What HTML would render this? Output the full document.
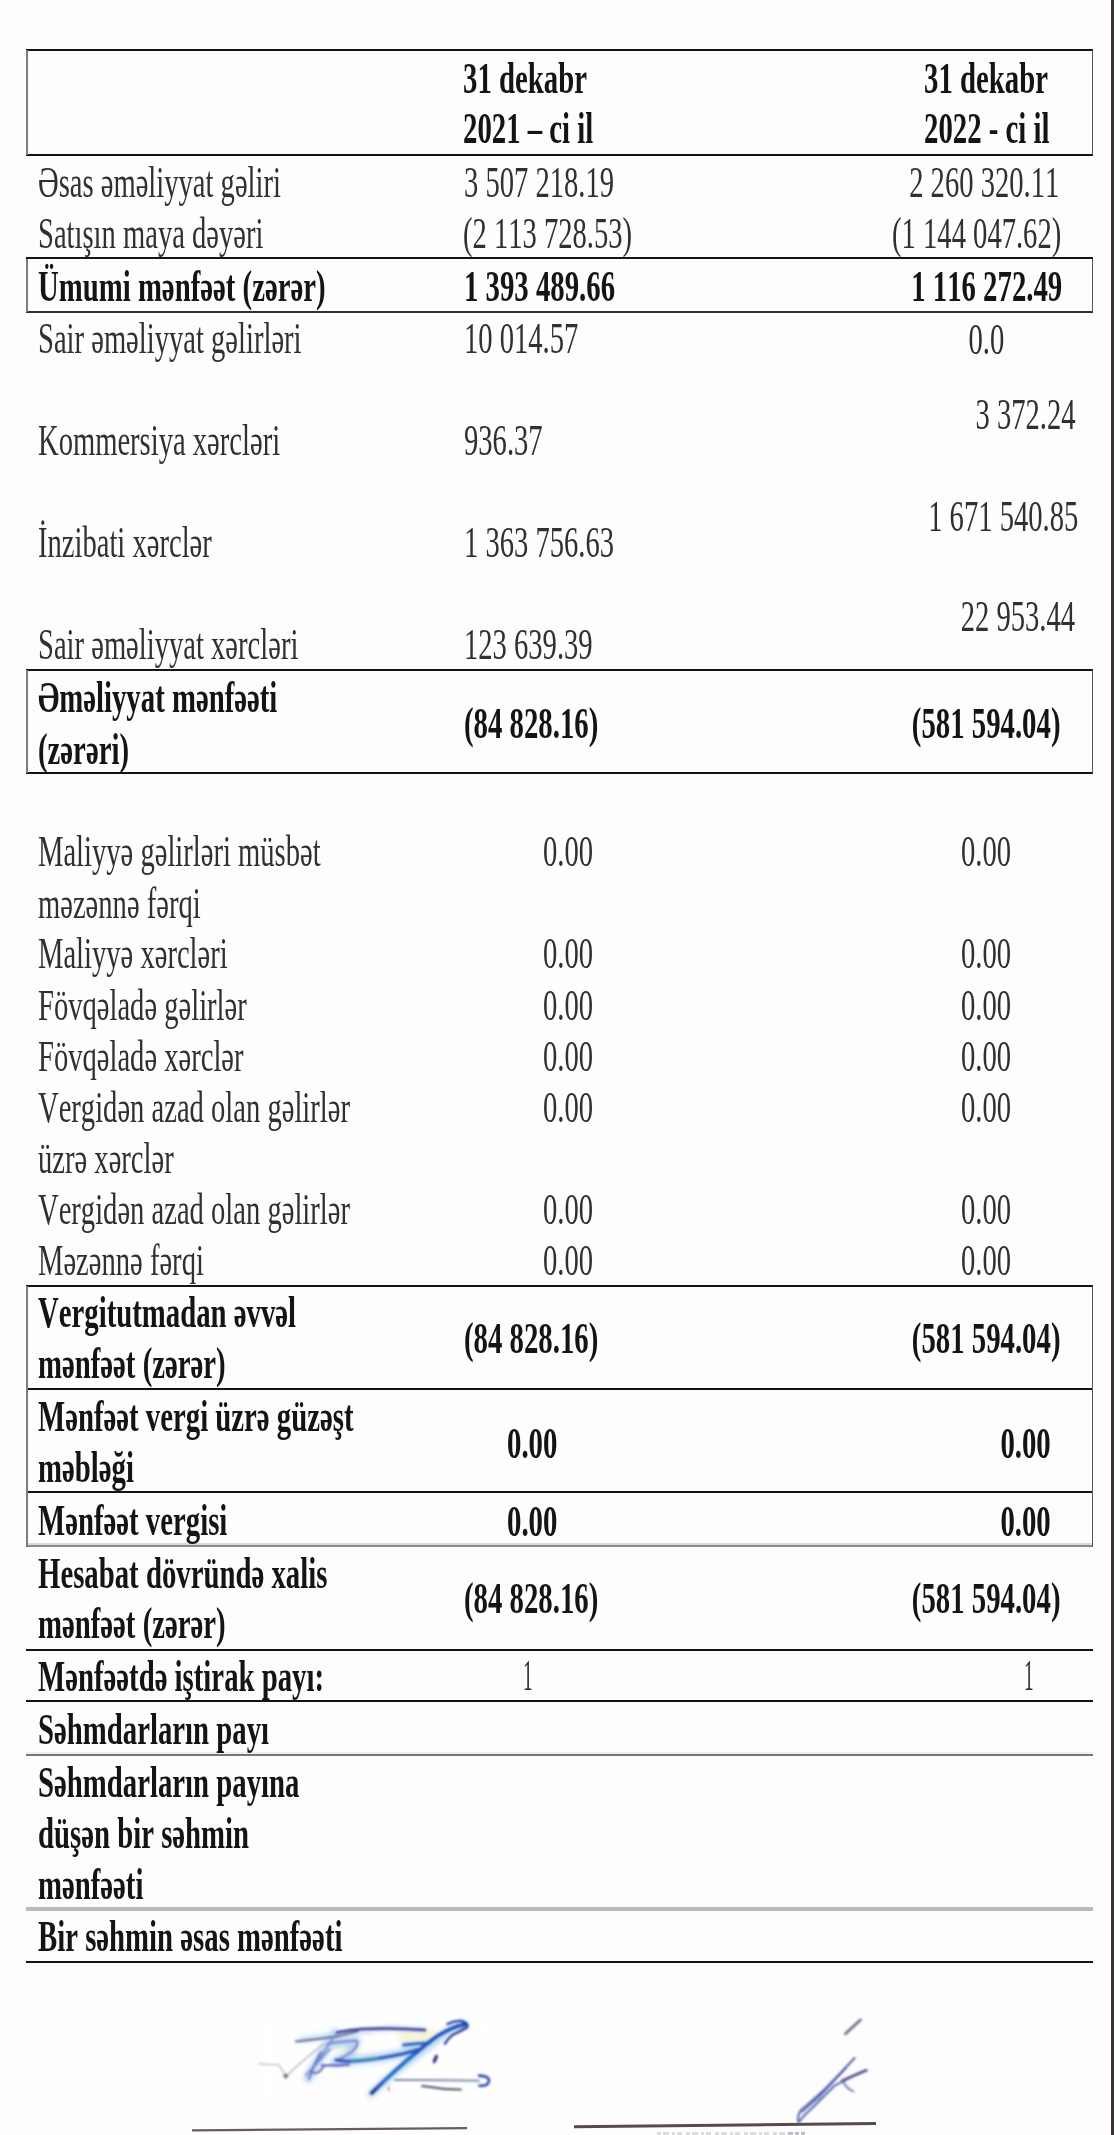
<!DOCTYPE html>
<html lang="az"><head><meta charset="utf-8"><title>Report</title>
<style>
html,body{margin:0;padding:0;background:#fdfdfd;}
body{width:1114px;height:2135px;position:relative;overflow:hidden;font-family:"Liberation Serif",serif;color:#303030;}
.t{position:absolute;white-space:pre;font-size:45.0px;line-height:1;font-kerning:none;font-variant-ligatures:none;filter:blur(0.4px);transform:scaleX(0.6353);}
.l{transform-origin:0 0;}
.r{transform-origin:100% 0;}
.b{font-weight:bold;color:#141414;transform:scaleX(0.6394);}
.k{position:absolute;}
</style></head><body>
<div class="k" style="left:26.0px;top:48.8px;width:1067.0px;height:2.1px;background:#141414"></div>
<div class="k" style="left:26.0px;top:153.8px;width:1067.0px;height:2.1px;background:#141414"></div>
<div class="k" style="left:26.0px;top:257.4px;width:1067.0px;height:2.1px;background:#141414"></div>
<div class="k" style="left:26.0px;top:669.2px;width:1067.0px;height:2.1px;background:#141414"></div>
<div class="k" style="left:26.0px;top:772.2px;width:1067.0px;height:2.1px;background:#141414"></div>
<div class="k" style="left:26.0px;top:1285.2px;width:1067.0px;height:2.1px;background:#141414"></div>
<div class="k" style="left:26.0px;top:1387.5px;width:1067.0px;height:2.1px;background:#141414"></div>
<div class="k" style="left:26.0px;top:1491.4px;width:1067.0px;height:2.1px;background:#141414"></div>
<div class="k" style="left:26.0px;top:1648.5px;width:1067.0px;height:2.1px;background:#141414"></div>
<div class="k" style="left:26.0px;top:1700.0px;width:1067.0px;height:2.1px;background:#141414"></div>
<div class="k" style="left:26.0px;top:1960.5px;width:1067.0px;height:2.1px;background:#141414"></div>
<div class="k" style="left:26.0px;top:310.8px;width:1067.0px;height:2.0px;background:#333"></div>
<div class="k" style="left:26.0px;top:1543.0px;width:1067.0px;height:2.0px;background:#dadada"></div>
<div class="k" style="left:26.0px;top:1544.9px;width:1067.0px;height:2.2px;background:#8a8a8a"></div>
<div class="k" style="left:26.0px;top:1752.4px;width:1067.0px;height:1.6px;background:#efefef"></div>
<div class="k" style="left:26.0px;top:1753.9px;width:1067.0px;height:2.1px;background:#777"></div>
<div class="k" style="left:26.0px;top:1906.9px;width:1067.0px;height:4.0px;background:#bbbbbb"></div>
<div class="k" style="left:26.0px;top:49.8px;width:1.7px;height:105.1px;background:#7d7d7d"></div>
<div class="k" style="left:1091.5px;top:49.8px;width:1.5px;height:105.1px;background:#5a5a5a"></div>
<div class="k" style="left:26.0px;top:258.5px;width:1.7px;height:53.3px;background:#7d7d7d"></div>
<div class="k" style="left:1091.5px;top:258.5px;width:1.5px;height:53.3px;background:#5a5a5a"></div>
<div class="k" style="left:26.0px;top:670.2px;width:1.7px;height:103.0px;background:#7d7d7d"></div>
<div class="k" style="left:1091.5px;top:670.2px;width:1.5px;height:103.0px;background:#5a5a5a"></div>
<div class="k" style="left:26.0px;top:1286.2px;width:1.7px;height:260.6px;background:#7d7d7d"></div>
<div class="k" style="left:1091.5px;top:1286.2px;width:1.5px;height:260.6px;background:#5a5a5a"></div>
<div class="k" style="left:1111.3px;top:0.0px;width:2.7px;height:2135.0px;background:#383333"></div>
<span class="t l b" style="left:462.7px;top:56.3px">31 dekabr</span>
<span class="t l b" style="left:462.7px;top:106.3px">2021 – ci il</span>
<span class="t l b" style="left:923.7px;top:56.3px">31 dekabr</span>
<span class="t l b" style="left:923.7px;top:106.3px">2022 - ci il</span>
<span class="t l" style="left:37.6px;top:160.4px">Əsas əməliyyat gəliri</span>
<span class="t l" style="left:463.5px;top:160.4px">3 507 218.19</span>
<span class="t r" style="right:54.5px;top:160.4px">2 260 320.11</span>
<span class="t l" style="left:37.6px;top:211.0px">Satışın maya dəyəri</span>
<span class="t l" style="left:462.9px;top:211.3px">(2 113 728.53)</span>
<span class="t r" style="right:53.0px;top:211.3px">(1 144 047.62)</span>
<span class="t l b" style="left:37.6px;top:264.3px">Ümumi mənfəət (zərər)</span>
<span class="t l b" style="left:463.5px;top:264.0px">1 393 489.66</span>
<span class="t r b" style="right:52.0px;top:264.0px">1 116 272.49</span>
<span class="t l" style="left:37.6px;top:315.5px">Sair əməliyyat gəlirləri</span>
<span class="t l" style="left:463.5px;top:316.3px">10 014.57</span>
<span class="t r" style="right:109.6px;top:316.7px">0.0</span>
<span class="t l" style="left:37.6px;top:418.4px">Kommersiya xərcləri</span>
<span class="t l" style="left:463.5px;top:418.4px">936.37</span>
<span class="t r" style="right:38.6px;top:392.2px">3 372.24</span>
<span class="t l" style="left:37.6px;top:519.8px">İnzibati xərclər</span>
<span class="t l" style="left:463.5px;top:519.8px">1 363 756.63</span>
<span class="t r" style="right:35.6px;top:493.7px">1 671 540.85</span>
<span class="t l" style="left:37.6px;top:621.8px">Sair əməliyyat xərcləri</span>
<span class="t l" style="left:463.5px;top:621.8px">123 639.39</span>
<span class="t r" style="right:38.6px;top:594.2px">22 953.44</span>
<span class="t l b" style="left:37.6px;top:675.4px">Əməliyyat mənfəəti</span>
<span class="t l b" style="left:37.6px;top:726.7px">(zərəri)</span>
<span class="t l b" style="left:463.5px;top:701.1px">(84 828.16)</span>
<span class="t r b" style="right:54.0px;top:701.1px">(581 594.04)</span>
<span class="t l" style="left:37.6px;top:829.4px">Maliyyə gəlirləri müsbət</span>
<span class="t l" style="left:543.0px;top:829.4px">0.00</span>
<span class="t l" style="left:961.2px;top:829.4px">0.00</span>
<span class="t l" style="left:37.6px;top:880.7px">məzənnə fərqi</span>
<span class="t l" style="left:37.6px;top:931.4px">Maliyyə xərcləri</span>
<span class="t l" style="left:543.0px;top:931.4px">0.00</span>
<span class="t l" style="left:961.2px;top:931.4px">0.00</span>
<span class="t l" style="left:37.6px;top:982.7px">Fövqəladə gəlirlər</span>
<span class="t l" style="left:543.0px;top:982.7px">0.00</span>
<span class="t l" style="left:961.2px;top:982.7px">0.00</span>
<span class="t l" style="left:37.6px;top:1033.9px">Fövqəladə xərclər</span>
<span class="t l" style="left:543.0px;top:1033.9px">0.00</span>
<span class="t l" style="left:961.2px;top:1033.9px">0.00</span>
<span class="t l" style="left:37.6px;top:1084.7px">Vergidən azad olan gəlirlər</span>
<span class="t l" style="left:543.0px;top:1084.7px">0.00</span>
<span class="t l" style="left:961.2px;top:1084.7px">0.00</span>
<span class="t l" style="left:37.6px;top:1136.0px">üzrə xərclər</span>
<span class="t l" style="left:37.6px;top:1187.2px">Vergidən azad olan gəlirlər</span>
<span class="t l" style="left:543.0px;top:1187.2px">0.00</span>
<span class="t l" style="left:961.2px;top:1187.2px">0.00</span>
<span class="t l" style="left:37.6px;top:1238.0px">Məzənnə fərqi</span>
<span class="t l" style="left:543.0px;top:1238.0px">0.00</span>
<span class="t l" style="left:961.2px;top:1238.0px">0.00</span>
<span class="t l b" style="left:37.6px;top:1290.3px">Vergitutmadan əvvəl</span>
<span class="t l b" style="left:37.6px;top:1340.6px">mənfəət (zərər)</span>
<span class="t l b" style="left:463.5px;top:1316.0px">(84 828.16)</span>
<span class="t r b" style="right:53.9px;top:1316.0px">(581 594.04)</span>
<span class="t l b" style="left:37.6px;top:1394.2px">Mənfəət vergi üzrə güzəşt</span>
<span class="t l b" style="left:37.6px;top:1445.1px">məbləği</span>
<span class="t l b" style="left:506.8px;top:1420.9px">0.00</span>
<span class="t r b" style="right:63.6px;top:1420.9px">0.00</span>
<span class="t l b" style="left:37.6px;top:1497.7px">Mənfəət vergisi</span>
<span class="t l b" style="left:506.8px;top:1499.2px">0.00</span>
<span class="t r b" style="right:62.8px;top:1499.2px">0.00</span>
<span class="t l b" style="left:37.6px;top:1550.5px">Hesabat dövründə xalis</span>
<span class="t l b" style="left:37.6px;top:1600.8px">mənfəət (zərər)</span>
<span class="t l b" style="left:463.5px;top:1575.7px">(84 828.16)</span>
<span class="t r b" style="right:53.9px;top:1575.7px">(581 594.04)</span>
<span class="t l b" style="left:37.6px;top:1654.0px">Mənfəətdə iştirak payı:</span>
<span class="t l" style="left:522.6px;top:1653.4px;transform:scaleX(0.43)">1</span>
<span class="t l" style="left:1023.6px;top:1653.4px;transform:scaleX(0.43)">1</span>
<span class="t l b" style="left:37.6px;top:1706.7px">Səhmdarların payı</span>
<span class="t l b" style="left:37.6px;top:1759.8px">Səhmdarların payına</span>
<span class="t l b" style="left:37.6px;top:1811.1px">düşən bir səhmin</span>
<span class="t l b" style="left:37.6px;top:1861.5px">mənfəəti</span>
<span class="t l b" style="left:37.6px;top:1914.3px">Bir səhmin əsas mənfəəti</span>
<svg class="k" style="left:0;top:1990px" width="1114" height="145" viewBox="0 1990 1114 145">
<defs>
<filter id="bl" x="-5%" y="-20%" width="110%" height="140%"><feGaussianBlur stdDeviation="0.9"/></filter>
<filter id="bh" x="-10%" y="-30%" width="120%" height="160%"><feGaussianBlur stdDeviation="2.4"/></filter>
<filter id="bp" x="-10%" y="-30%" width="120%" height="160%"><feGaussianBlur stdDeviation="5"/></filter>
<filter id="bs" x="-5%" y="-100%" width="110%" height="300%"><feGaussianBlur stdDeviation="0.6"/></filter>
</defs>
<!-- paper patch behind signature 1 -->
<rect x="262" y="2018" width="232" height="84" fill="#ffffff" opacity="0.9" filter="url(#bp)"/>
<rect x="398" y="2030" width="40" height="12" fill="#fbf3c4" opacity="0.75" filter="url(#bh)"/>
<rect x="330" y="2044" width="30" height="8" fill="#fbf6d8" opacity="0.6" filter="url(#bh)"/>
<!-- light blue halo -->
<g fill="none" stroke="#a4cbef" stroke-linecap="round" stroke-linejoin="round" opacity="0.8" filter="url(#bh)">
<path d="M465 2025 L452 2028 L420 2053 L394 2073 L371 2094" stroke-width="7"/>
<path d="M328 2044 L356 2041 L349 2055 L335 2062 L358 2060 L385 2057 L418 2050" stroke-width="9"/>
<path d="M335 2033 L308 2078" stroke-width="9"/>
<path d="M300 2040 L340 2034 L389 2028 L424 2030" stroke-width="4"/>
<path d="M404 2045 L430 2043" stroke-width="5"/>
</g>
<g fill="none" stroke-linecap="round" stroke-linejoin="round" filter="url(#bl)">
<!-- top stroke -->
<path d="M296 2041.6 Q318 2039 337 2036.4 Q350 2033.5 358 2031" stroke="#6c6890" stroke-width="2"/>
<path d="M337 2032.4 Q350 2029.6 362 2029 Q395 2027.6 425 2030" stroke="#3f3890" stroke-width="2.6"/>
<!-- left thin trailing -->
<path d="M259 2063.8 L279 2065 L286 2076 L301 2062.5 L324 2043.5" stroke="#a8a8b4" stroke-width="1.1"/>
<path d="M283.5 2076 L288 2076 M285.7 2074 L285.7 2078.4" stroke="#555068" stroke-width="1.3"/>
<!-- diagonal scribbles lower-left -->
<path d="M330 2049 Q318 2062 306 2075" stroke="#7d86c8" stroke-width="1.8"/>
<path d="M321 2052 Q313 2066 309 2079" stroke="#6c78c0" stroke-width="2"/>
<path d="M336 2034 Q326 2048 316 2064" stroke="#6e8ad0" stroke-width="1.6"/>
<path d="M312 2072 Q318 2076 324 2066" stroke="#5a66b0" stroke-width="1.8"/>
<!-- P loop -->
<path d="M327.5 2043.8 Q345 2040.6 357 2041 Q358.5 2046 352 2051.5 Q346 2056.4 340 2058.6" stroke="#8a86cc" stroke-width="2.2"/>
<!-- middle thick horizontal -->
<path d="M336 2060 Q346 2061.6 355 2061 Q368 2060 380.5 2058 Q393 2056 403.5 2053.8 Q411 2052 418 2049.5" stroke="#2c58ba" stroke-width="3"/>
<path d="M352 2060.6 L378 2058.2" stroke="#3a9aa8" stroke-width="1.6"/>
<path d="M321.7 2065.4 Q336 2065.6 349 2064.6" stroke="#6a5eb8" stroke-width="2.2"/>
<!-- crossbar near top of diagonal -->
<path d="M403.5 2045 Q416 2043.4 429.4 2043" stroke="#2a55b8" stroke-width="2.6"/>
<!-- main diagonal -->
<path d="M466 2024.4 Q458 2025.5 452 2028.4 Q444 2032 436.6 2036.5 Q427 2043.5 418 2051 Q406 2061 395 2071 Q383 2082 371.6 2093" stroke="#2356bd" stroke-width="3.6"/>
<path d="M414 2055 L398 2069 L384 2082" stroke="#2f86d6" stroke-width="1.4"/>
<path d="M376 2089 L372 2093" stroke="#2a3f78" stroke-width="3"/>
<!-- flourish -->
<path d="M447.5 2024 Q455 2020.4 461.5 2021 Q469 2023.4 467 2027.4 Q460 2031.5 452.5 2034.8 Q447.5 2039 445 2043.6" stroke="#2b3f9e" stroke-width="2.4"/>
<!-- dot -->
<path d="M436.4 2056.5 L434.2 2061.5" stroke="#3a2a80" stroke-width="3.2"/>
<!-- bottom right strokes -->
<path d="M395 2080 Q440 2079.6 479 2080.8" stroke="#7c8cab" stroke-width="2"/>
<path d="M479 2075.6 Q489.5 2076 489 2081 Q488 2086.5 479.5 2085.6" stroke="#2c4cb4" stroke-width="2.6"/>
<path d="M422 2086 Q442 2089.4 461 2089.6" stroke="#4a5070" stroke-width="2"/>
<path d="M388.5 2087 L389 2090.5" stroke="#777" stroke-width="1.2"/>
</g>
<!-- underline 1 -->
<path d="M192 2130.4 L467 2128.2" stroke="#6b5b5c" stroke-width="2.3" fill="none" filter="url(#bs)"/>
<!-- underline 2 -->
<path d="M574 2126.8 L876 2123.6" stroke="#5a4a4c" stroke-width="3" fill="none" filter="url(#bs)"/>
<!-- signature 2 -->
<g fill="none" stroke-linecap="round" stroke-linejoin="round" filter="url(#bl)">
<path d="M845.4 2033.8 L860.6 2019.8" stroke="#74628e" stroke-width="2.6"/>
<path d="M854.6 2058 Q840 2074 825.6 2088.5 Q812 2101 801 2110 Q797 2116 798.5 2122.5 Q805 2114 813.4 2106.8 Q824 2096 834.7 2085.5 Q850 2077 866.8 2070.2" stroke="#5560a8" stroke-width="2"/>
<path d="M846 2068 L818 2098 L802 2112" stroke="#4050b0" stroke-width="1.6"/>
<path d="M842 2081 Q852 2076 866 2070.4" stroke="#50508e" stroke-width="2.6"/>
<path d="M843.5 2082.6 Q848 2090 853.4 2091.4" stroke="#6a7ab0" stroke-width="2"/>
</g>
<!-- faint cut-off text under line 2 -->
<g fill="none" filter="url(#bs)">
<path d="M657 2133.6 L786 2133.6" stroke="#cfcfd6" stroke-width="2.6" stroke-dasharray="4 2 6 3 3 2 5 4" opacity="0.8"/>
<path d="M788 2133 L805 2133" stroke="#a9a9b8" stroke-width="3.4" stroke-dasharray="5 2 4 2 4" opacity="0.8"/>
</g>
</svg>
</body></html>
